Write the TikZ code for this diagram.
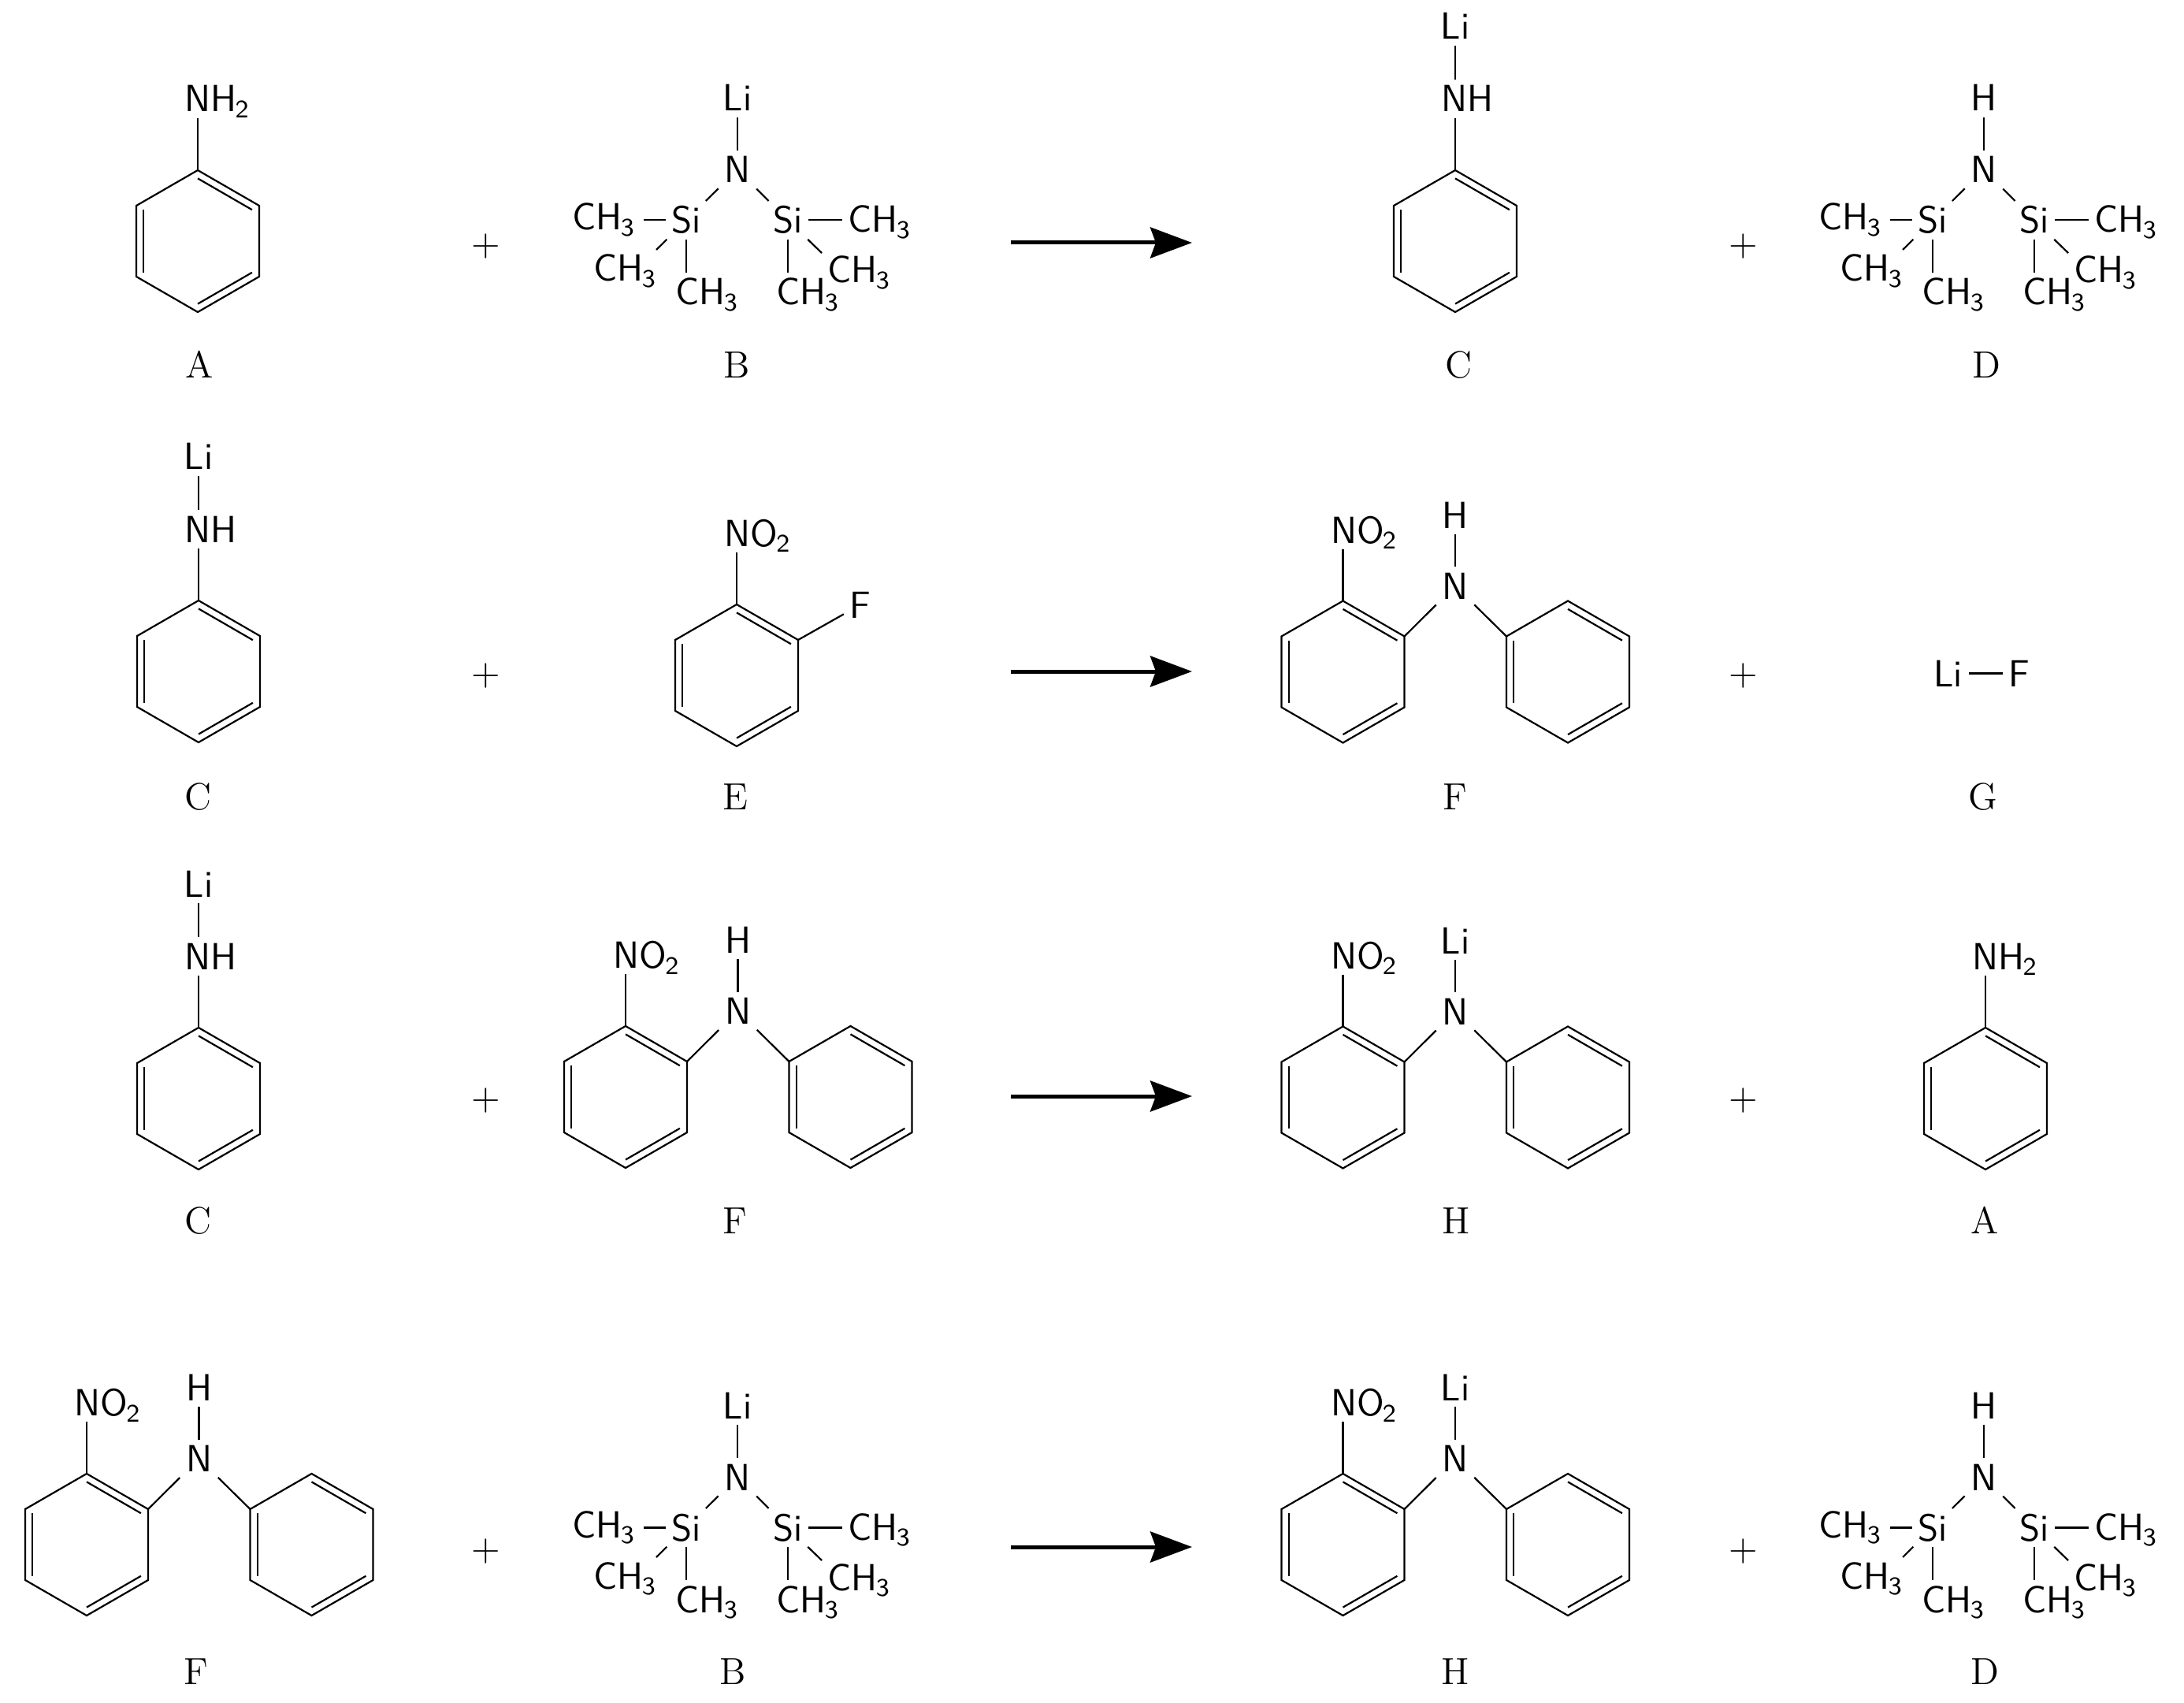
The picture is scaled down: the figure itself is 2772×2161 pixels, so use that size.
\documentclass[tikz,border=0pt]{standalone}
\usetikzlibrary{arrows.meta}
\newcommand\chemsub[1]{\kern-.5pt\raisebox{-1.9pt}{\fontsize{8}{8}\selectfont #1}}
\newcommand\benzring[3]{%
  \coordinate (#1t) at (#2,#3-90);
  \coordinate (#1ur) at (#2+78,#3-45);
  \coordinate (#1lr) at (#2+78,#3+45);
  \coordinate (#1b) at (#2,#3+90);
  \coordinate (#1ll) at (#2-78,#3+45);
  \coordinate (#1ul) at (#2-78,#3-45);
  \draw[bond] (#1t) -- (#1ur) -- (#1lr) -- (#1b) -- (#1ll) -- (#1ul) -- cycle;
  \draw[bond] (#2,#3-79.6) -- (#2+68.9,#3-39.8);
  \draw[bond] (#2+68.9,#3+39.8) -- (#2,#3+79.6);
  \draw[bond] (#2-68.9,#3+39.8) -- (#2-68.9,#3-39.8);
}
\tikzset{
  bond/.style={line width=.55pt,black},
  atom/.style={font=\sffamily\fontsize{12}{14}\selectfont,text height=8.3pt,text depth=0pt,inner sep=1.75pt,yshift=-.5pt},
  cmpd/.style={font=\rmfamily\fontsize{12}{14}\selectfont,anchor=base,inner sep=0pt,yshift=-.5pt},
  plussign/.style={font=\rmfamily\fontsize{12}{14}\selectfont,inner sep=0pt},
  rxn/.style={line width=1.25pt,-{Stealth[length=13.25pt,width=9.75pt,inset=1.75pt]}},
  aminogroup/.pic={
    \benzring{r}{0}{0}
    \node[atom,anchor=base west] (nh) at (-24,-166) {NH\chemsub{2}};
    \draw[bond] (nh.south -| rt) -- (rt);
  },
  lithioamine/.pic={
    \benzring{r}{0}{0}
    \node[atom,anchor=base west] (nh) at (-25,-166) {NH};
    \node[atom,anchor=base] (li) at (0,-258) {Li};
    \draw[bond] (nh.south -| rt) -- (rt);
    \draw[bond] (li) -- (nh.north -| li);
  },
  pics/silazane/.style={code={
    \node[atom,anchor=base] (x) at (0,-168) {#1};
    \node[atom,anchor=base] (n) at (0,-77) {N};
    \node[atom,anchor=base] (sa) at (-65,-13) {Si};
    \node[atom,anchor=base] (sb) at (64,-13) {Si};
    \node[atom,anchor=base west] (c1) at (-217,-17) {CH\chemsub{3}};
    \node[atom,anchor=base west] (c2) at (-190,48) {CH\chemsub{3}};
    \node[atom,anchor=base west] (c3) at (-86,78) {CH\chemsub{3}};
    \node[atom,anchor=base west] (c4) at (42,78) {CH\chemsub{3}};
    \node[atom,anchor=base west] (c5) at (107,50) {CH\chemsub{3}};
    \node[atom,anchor=base west] (c6) at (133,-14) {CH\chemsub{3}};
    \coordinate (e2) at (-103,10);
    \coordinate (e5) at (107,14);
    \draw[bond] (x) -- (n);
    \draw[bond] (n) -- (sa);
    \draw[bond] (n) -- (sb);
    \draw[bond,shorten >=1.2pt] (sa) -- (c1.east |- sa.center);
    \draw[bond] (sa) -- (e2);
    \draw[bond] (sa) -- (c3.north -| sa.center);
    \draw[bond] (sb) -- (c4.north -| sb.center);
    \draw[bond] (sb) -- (e5);
    \draw[bond] (sb) -- (c6.west |- sb.center);
  }},
  fluoronitro/.pic={
    \benzring{r}{0}{0}
    \node[atom,anchor=base west] (no) at (-23,-166) {NO\chemsub{2}};
    \node[atom,anchor=base] (f) at (157,-75) {F};
    \draw[bond] (no.south -| rt) -- (rt);
    \draw[bond] (rur) -- (f);
  },
  pics/diaryl/.style={code={
    \benzring{r}{0}{0}
    \benzring{s}{285.5}{0}
    \node[atom,anchor=base west] (no) at (-23,-165.5) {NO\chemsub{2}};
    \node[atom,anchor=base] (n) at (142.5,-94.5) {N};
    \node[atom,anchor=base] (x) at (142.5,-184.5) {#1};
    \draw[bond] (no.south -| rt) -- (rt);
    \draw[bond] (x) -- (n);
    \draw[bond] (n) -- (rur);
    \draw[bond] (n) -- (sul);
  }},
}
\begin{document}
\begin{tikzpicture}[x=.25pt,y=-.25pt]
\useasboundingbox (0,0) rectangle (2772,2161);
% row 1
\pic (a1) at (251,306) {aminogroup};
\pic (b1) at (936,307) {silazane={Li}};
\pic (c1m) at (1847,306) {lithioamine};
\pic (d1) at (2518,307) {silazane={H}};
\node[cmpd] (la1) at (253,478) {A};
\node[cmpd] (lb1) at (935,478) {B};
\node[cmpd] (lc1) at (1851,478) {C};
\node[cmpd] (ld1) at (2521,478) {D};
\node[plussign] (pa1) at (617,313) {$+$};
\node[plussign] (pb1) at (2213,313) {$+$};
\coordinate (as1) at (1283,308);
\coordinate (ae1) at (1513,308);
\draw[rxn] (as1) -- (ae1);
% row 2
\pic (c2m) at (252,852) {lithioamine};
\pic (e2m) at (935,857) {fluoronitro};
\pic (f2m) at (1704.5,852.5) {diaryl={H}};
\node[atom,anchor=base] (li2) at (2472.5,869) {Li};
\node[atom,anchor=base] (fl2) at (2563,869) {F};
\draw[bond] (li2) -- (fl2);
\node[cmpd] (lc2) at (251,1025) {C};
\node[cmpd] (le2) at (933,1025) {E};
\node[cmpd] (lf2) at (1847,1025) {F};
\node[cmpd] (lg2) at (2517,1025) {G};
\node[plussign] (pa2) at (617,857) {$+$};
\node[plussign] (pb2) at (2213,857) {$+$};
\coordinate (as2) at (1283,852);
\coordinate (ae2) at (1513,852);
\draw[rxn] (as2) -- (ae2);
% row 3
\pic (c3m) at (252,1394) {lithioamine};
\pic (f3m) at (794,1392) {diaryl={H}};
\pic (h3m) at (1704.5,1392.5) {diaryl={Li}};
\pic (a3m) at (2520,1394) {aminogroup};
\node[cmpd] (lc3) at (251,1563) {C};
\node[cmpd] (lf3) at (933,1563) {F};
\node[cmpd] (lh3) at (1848,1563) {H};
\node[cmpd] (la3) at (2519,1563) {A};
\node[plussign] (pa3) at (617,1396) {$+$};
\node[plussign] (pb3) at (2213,1396) {$+$};
\coordinate (as3) at (1283,1391);
\coordinate (ae3) at (1513,1391);
\draw[rxn] (as3) -- (ae3);
% row 4
\pic (f4m) at (110,1960) {diaryl={H}};
\pic (b4m) at (936,1966) {silazane={Li}};
\pic (h4m) at (1704.5,1960) {diaryl={Li}};
\pic (d4m) at (2518,1966) {silazane={H}};
\node[cmpd] (lf4) at (249,2135) {F};
\node[cmpd] (lb4) at (930,2135) {B};
\node[cmpd] (lh4) at (1847,2135) {H};
\node[cmpd] (ld4) at (2519,2135) {D};
\node[plussign] (pa4) at (617,1968) {$+$};
\node[plussign] (pb4) at (2213,1968) {$+$};
\coordinate (as4) at (1283,1963);
\coordinate (ae4) at (1513,1963);
\draw[rxn] (as4) -- (ae4);
\end{tikzpicture}
\end{document}
